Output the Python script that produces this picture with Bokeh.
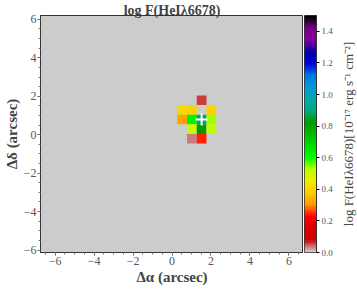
import numpy as np
from bokeh.plotting import figure
from bokeh.layouts import row
from bokeh.models import (Range1d, LinearColorMapper, SingleIntervalTicker,
                          FixedTicker, ColumnDataSource)
from bokeh.embed import file_html
from bokeh.resources import INLINE

# ---- data ----
cell_x = [1.52, 0.52, 1.02, 2.02, 0.52, 1.02, 1.52, 2.02, 1.02, 1.52, 2.02, 1.02, 1.52]
cell_y = [1.79, 1.29, 1.29, 1.29, 0.79, 0.79, 0.79, 0.79, 0.29, 0.29, 0.29, -0.21, -0.21]
cell_v = [0.055, 0.41, 0.39, 0.39, 0.32, 0.63, 0.88, 0.535, 0.51, 0.82, 0.52, 0.035, 0.245]
cross_x = [1.52]
cross_y = [0.79]
cbar_ticks = [0.0, 0.2, 0.4, 0.6, 0.8, 1.0, 1.2, 1.4]
xy_ticks = [-6, -4, -2, 0, 2, 4, 6]
vmin, vmax = 0.0, 1.5
title_text = "log F(HeI\u03bb6678)"
cbar_label = "log F(HeI\u03bb6678)[10\u207b\u00b9\u2077 erg s\u207b\u00b9 cm\u207b\u00b2]"

# ---- nipy_spectral_r palette ----
_pos = np.linspace(0, 1, 21)
_r = [0, .4667, .5333, 0, 0, 0, 0, 0, 0, 0, 0, 0, 0, .7333, .9333, 1, 1, 1, .8667, .8, .8]
_g = [0, 0, 0, 0, 0, .4667, .6, .6667, .6667, .6, .7333, .8667, 1, 1, .9333, .8, .6, 0, 0, 0, .8]
_b = [0, .5333, .6, .6667, .8667, .8667, .8667, .6667, .5333, 0, 0, 0, 0, 0, 0, 0, 0, 0, 0, 0, .8]
t = np.linspace(0, 1, 256)
palette = []
for tt in t[::-1]:
    r = np.interp(tt, _pos, _r); g = np.interp(tt, _pos, _g); b = np.interp(tt, _pos, _b)
    palette.append("#%02x%02x%02x" % (int(round(r * 255)), int(round(g * 255)), int(round(b * 255))))
mapper = LinearColorMapper(palette=palette, low=vmin, high=vmax)

FONT = "Liberation Serif"
TOP = 15

def minus(v):
    return str(v).replace("-", "\u2212")

# ---- main map ----
p = figure(width=303, height=291, output_backend="svg", toolbar_location=None,
           x_range=Range1d(-6.75, 6.75), y_range=Range1d(-6.13, 6.2),
           min_border_left=36, min_border_right=0, min_border_top=TOP, min_border_bottom=33)
p.background_fill_color = "#cccccc"
p.border_fill_color = "white"
p.outline_line_color = "#333333"
p.grid.visible = False
p.title.text = title_text
p.title.text_font = FONT
p.title.text_font_style = "bold"
p.title.text_font_size = "14px"
p.title.align = "center"
p.title.standoff = -4
p.title.offset = 0

src = ColumnDataSource(dict(x=cell_x, y=cell_y, v=cell_v))
p.rect(x="x", y="y", width=0.5, height=0.5, source=src,
       fill_color={"field": "v", "transform": mapper}, line_color=None)
p.scatter(x=cross_x, y=cross_y, marker="cross", size=12, line_color="white", line_width=2)

for ax in (p.xaxis[0], p.yaxis[0]):
    ax.ticker = SingleIntervalTicker(interval=2, num_minor_ticks=4)
    ax.major_label_overrides = {v: minus(v) for v in xy_ticks}
    ax.major_label_text_font = FONT
    ax.major_label_text_font_size = "12px"
    ax.major_label_text_color = "#555555"
    ax.major_tick_in = 0
    ax.major_tick_out = 3
    ax.minor_tick_in = 0
    ax.minor_tick_out = 2
    ax.axis_line_color = "#333333"
    ax.major_tick_line_color = "#555555"
    ax.minor_tick_line_color = "#777777"
    ax.axis_label_text_font = FONT
    ax.axis_label_text_font_style = "bold"
    ax.axis_label_text_font_size = "15px"
    ax.major_label_standoff = 1
    ax.axis_label_standoff = 1
p.xaxis.axis_label = "\u0394\u03b1 (arcsec)"
p.yaxis.axis_label = "\u0394\u03b4 (arcsec)"

# ---- colour bar ----
grad = np.linspace(vmin, vmax, 300).reshape(-1, 1)
c = figure(width=32, height=291, output_backend="svg", toolbar_location=None,
           x_range=Range1d(0, 1), y_range=Range1d(vmin, vmax),
           x_axis_location=None, y_axis_location="right",
           min_border_left=1, min_border_right=18, min_border_top=TOP, min_border_bottom=33)
c.image(image=[grad], x=0, y=vmin, dw=1, dh=vmax - vmin, color_mapper=mapper)
c.grid.visible = False
c.outline_line_color = "#333333"
c.border_fill_color = "white"
ya = c.yaxis[0]
ya.ticker = FixedTicker(ticks=cbar_ticks)
ya.major_label_overrides = {v: "%.1f" % v for v in cbar_ticks}
ya.major_label_text_font = FONT
ya.major_label_text_font_size = "9px"
ya.major_label_text_color = "#555555"
ya.major_tick_in = 0
ya.major_tick_out = 3
ya.minor_tick_line_color = None
ya.axis_line_color = "#333333"
ya.major_label_standoff = 2

# ---- colour bar label (left-axis label of a blank strip, reads bottom-to-top) ----
d = figure(width=22, height=291, output_backend="svg", toolbar_location=None,
           x_range=Range1d(0, 1), y_range=Range1d(vmin, vmax),
           x_axis_location=None, y_axis_location="left",
           min_border_left=20, min_border_right=0, min_border_top=TOP, min_border_bottom=39)
d.grid.visible = False
d.outline_line_color = None
d.background_fill_color = None
d.border_fill_color = "white"
da = d.yaxis[0]
da.ticker = FixedTicker(ticks=[])
da.axis_line_color = None
da.major_tick_line_color = None
da.minor_tick_line_color = None
da.major_label_text_alpha = 0
da.major_label_standoff = 0
da.major_tick_out = 0
da.axis_label = cbar_label
da.axis_label_text_font = FONT
da.axis_label_text_font_size = "13px"
da.axis_label_text_font_style = "normal"
da.axis_label_standoff = 0

layout = row(p, c, d, spacing=0)
tmpl = "{% block preamble %}<style>html,body{margin:0 !important;padding:0 !important;overflow:hidden;}</style>{% endblock %}"
open("out.html", "w").write(file_html(layout, INLINE, template=tmpl))
